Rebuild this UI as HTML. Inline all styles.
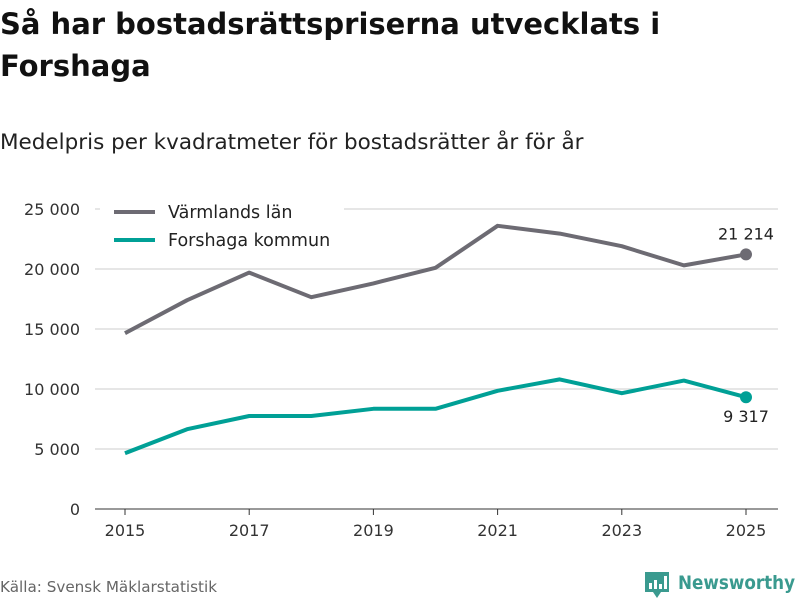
<!DOCTYPE html>
<html><head><meta charset="utf-8"><style>
body{margin:0;width:800px;height:600px;background:#fff;font-family:"DejaVu Sans","Liberation Sans",sans-serif;overflow:hidden;position:relative}
h1{position:absolute;left:0;top:3px;margin:0;font-size:29px;line-height:42px;font-weight:bold;color:#111}
.sub{position:absolute;left:0;top:130px;font-size:21.5px;color:#222}
.src{position:absolute;left:0;top:578px;font-size:15.2px;color:#666}
</style></head><body>
<h1>Så har bostadsrättspriserna utvecklats i<br>Forshaga</h1>
<div class="sub">Medelpris per kvadratmeter för bostadsrätter år för år</div>
<div class="src">Källa: Svensk Mäklarstatistik</div>
<svg id="chart" width="800" height="600" style="position:absolute;left:0;top:0"></svg>
<script>
const years=[2015,2016,2017,2018,2019,2020,2021,2022,2023,2024,2025];
const varmland=[14650,17400,19700,17650,18800,20100,23600,22950,21900,20300,21214];
const forshaga=[4650,6650,7750,7750,8350,8350,9850,10800,9650,10700,9317];
const yTicks=[0,5000,10000,15000,20000,25000];
const xTicks=[2015,2017,2019,2021,2023,2025];
const svg=document.getElementById('chart');const NS='http://www.w3.org/2000/svg';
const X=y=>125+(y-2015)*62.1;const Y=v=>509-v*0.012;
const fmt=v=>v.toLocaleString('en-US').replace(/,/g,' ');
function mk(t,a,txt){const e=document.createElementNS(NS,t);for(const k in a)e.setAttribute(k,a[k]);if(txt!=null)e.textContent=txt;svg.appendChild(e);return e;}
yTicks.forEach(v=>{
 const l=mk('line',{x1:95,x2:778,y1:Y(v),y2:Y(v),stroke:v===0?'#333':'#ddd','stroke-width':v===0?1:1.5});
 
 
 const t=mk('text',{x:80,y:Y(v)+6,'text-anchor':'end','font-size':16,fill:'#333'},fmt(v));
 
 
});
xTicks.forEach(y=>{
 const l=mk('line',{x1:X(y),x2:X(y),y1:509,y2:515,stroke:'#333'});
 
 
 const t=mk('text',{x:X(y),y:536,'text-anchor':'middle','font-size':16,fill:'#333'},y);
 
 
});
function series(vals,col,name){
 const p=mk('polyline',{points:vals.map((v,i)=>X(years[i])+','+Y(v)).join(' '),fill:'none',stroke:col,'stroke-width':4,'stroke-linejoin':'round'});
 
 
 const n=vals.length-1;
 const c=mk('circle',{cx:X(years[n]),cy:Y(vals[n]),r:6,fill:col});
 
 
}
series(varmland,'#6d6b73','varmland');
series(forshaga,'#00a096','forshaga');
const l1=mk('text',{x:746,y:Y(varmland[10])-15,'text-anchor':'middle','font-size':16,fill:'#222'},fmt(varmland[10]));


const l2=mk('text',{x:746,y:Y(forshaga[10])+25,'text-anchor':'middle','font-size':16,fill:'#222'},fmt(forshaga[10]));


const bg=mk('rect',{x:100,y:198,width:244,height:58,fill:'#fff'});


[['Värmlands län','#6d6b73',212],['Forshaga kommun','#00a096',240]].forEach(([n,c,y])=>{
 const l=mk('line',{x1:114,x2:155,y1:y,y2:y,stroke:c,'stroke-width':4});
 
 
 const t=mk('text',{x:168,y:y+6,'font-size':17.5,fill:'#222'},n);
 
 
});
const g=mk('g',{});


g.innerHTML='<path d="M645 572h24v20h-8l-4 6-4-6h-8z" fill="#3a9a8f"/><rect x="649" y="583" width="3" height="6" fill="#fff"/><rect x="654" y="580" width="3" height="9" fill="#fff"/><rect x="659" y="584" width="3" height="5" fill="#fff"/><rect x="664" y="576" width="3" height="13" fill="#fff"/><text x="678" y="589" font-size="19" fill="#3a9a8f" font-weight="bold" textLength="117" lengthAdjust="spacingAndGlyphs">Newsworthy</text>';
svg.appendChild(g);
</script>
</body></html>
